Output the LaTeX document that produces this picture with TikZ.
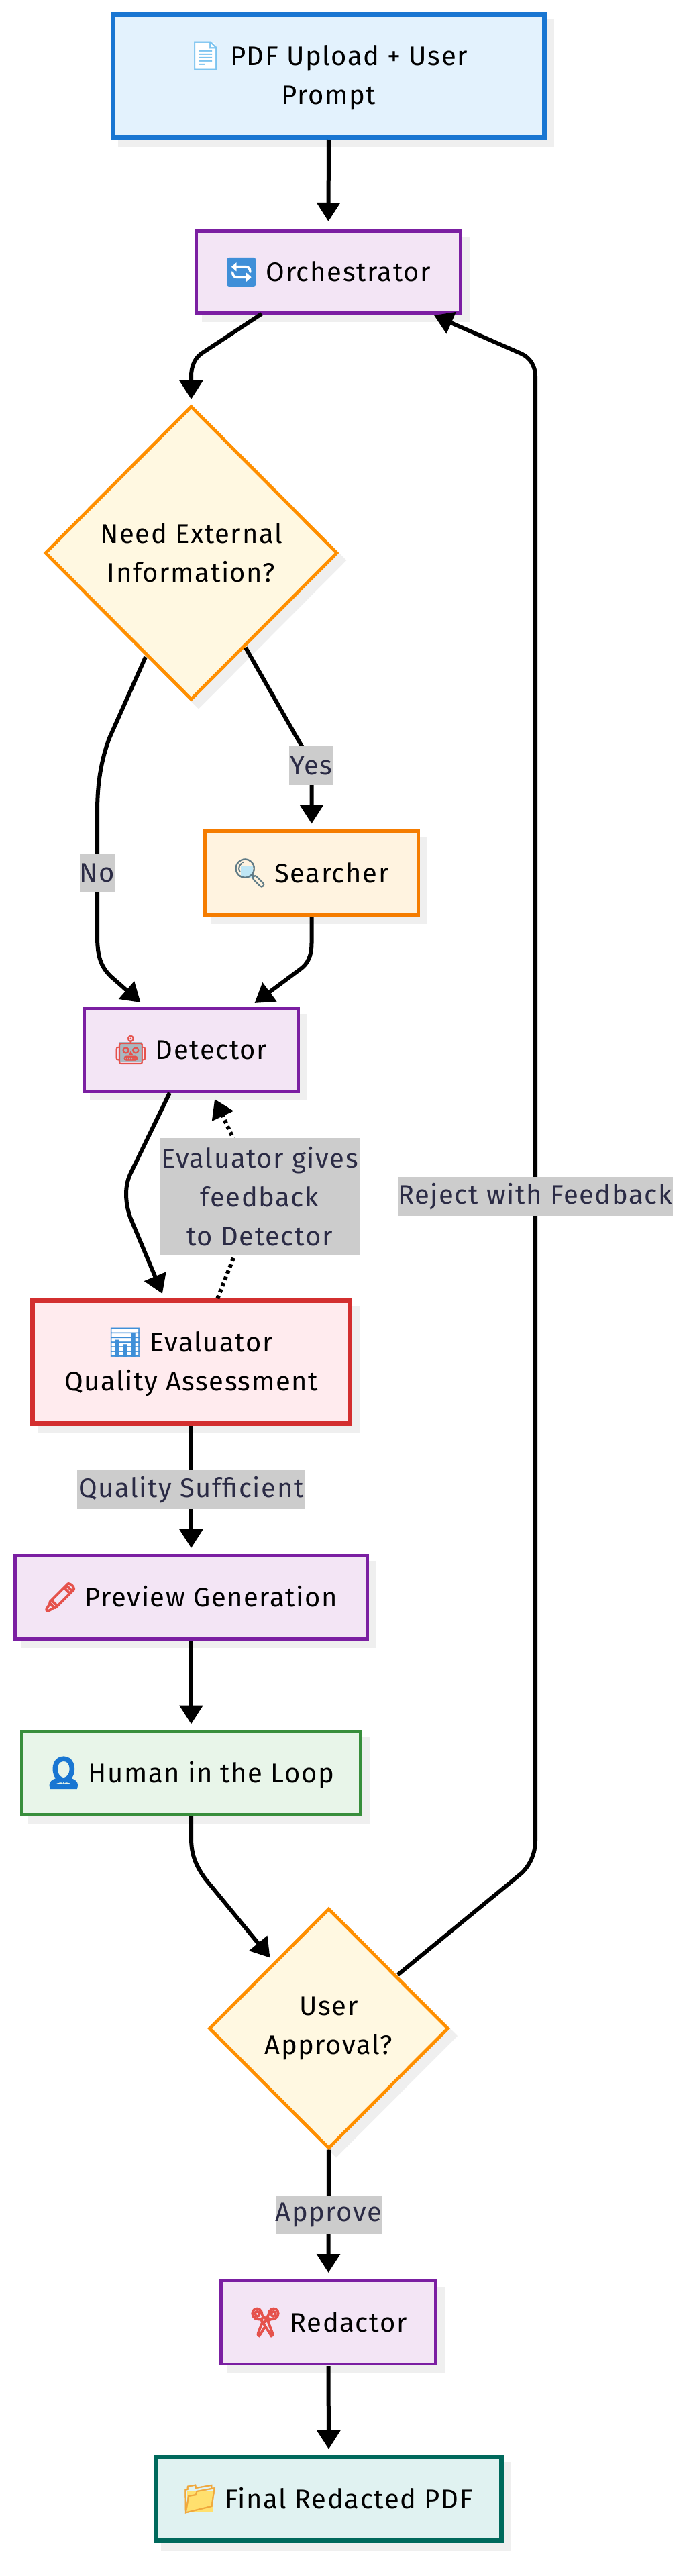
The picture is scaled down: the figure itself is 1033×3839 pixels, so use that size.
\documentclass[tikz,border=0pt]{standalone}
\usepackage{fontspec}
\setmainfont[LetterSpace=4]{Fira Sans}
\newfontfamily\emojifont[FakeBold=1.2]{Noto Emoji}
\newfontfamily\emojiheavy[FakeBold=5]{Noto Emoji}
\newfontfamily\emojisolid[FakeBold=14]{Noto Emoji}
\usetikzlibrary{arrows.meta,shapes.geometric}
\definecolor{shadowgray}{HTML}{EFEFEF}
\definecolor{labelgray}{HTML}{CCCCCC}
\definecolor{labeltext}{HTML}{2B2B45}
\definecolor{decisionline}{HTML}{FF8F00}
\definecolor{decisionfill}{HTML}{FFF8E1}
\definecolor{blueline}{HTML}{1976D2}
\definecolor{bluefill}{HTML}{E3F2FD}
\definecolor{purpleline}{HTML}{7B1FA2}
\definecolor{purplefill}{HTML}{F3E5F5}
\definecolor{orangeline}{HTML}{F57C00}
\definecolor{orangefill}{HTML}{FFF3E0}
\definecolor{redline}{HTML}{D32F2F}
\definecolor{redfill}{HTML}{FFEBEE}
\definecolor{greenline}{HTML}{388E3C}
\definecolor{greenfill}{HTML}{E8F5E9}
\definecolor{tealline}{HTML}{00695C}
\definecolor{tealfill}{HTML}{E0F2F1}
\definecolor{emopage}{HTML}{7CC4F0}
\definecolor{emoblue}{HTML}{3F8FD8}
\definecolor{emoperson}{HTML}{1976D2}
\definecolor{emogray}{HTML}{5F7A86}
\definecolor{emorobot}{HTML}{A9B8C0}
\definecolor{emored}{HTML}{E5524C}
\definecolor{emofold}{HTML}{F0A83C}
\definecolor{emofoldfill}{HTML}{FFE06E}
\definecolor{emoglass}{HTML}{BFE6F5}
% glyph centred in a fixed 46pt slot: colour, char
\newcommand{\emo}[2]{\makebox[46pt][c]{\emojifont\color{#1}\fontsize{42}{58}\selectfont #2}\hspace{14pt}}
\newcommand{\emoh}[2]{\makebox[46pt][c]{\emojiheavy\color{#1}\fontsize{42}{58}\selectfont #2}\hspace{14pt}}
\newcommand{\emos}[2]{\makebox[46pt][c]{\emojisolid\color{#1}\fontsize{42}{58}\selectfont #2}\hspace{14pt}}
% colour block under a glyph: colour, raise, width, height
\newcommand{\emobg}[4]{\makebox[0pt][l]{\makebox[46pt][c]{\raisebox{#2}{\color{#1}\rule{#3}{#4}}}}}
% patch under the lens of the glass
\newcommand{\emolens}[1]{\makebox[0pt][l]{\makebox[46pt][c]{\hspace{-9pt}\raisebox{7pt}{\color{#1}\rule{18pt}{18pt}}}}}
\tikzset{
  base/.style={font=\fontsize{40}{58}\selectfont, align=center, inner sep=0pt, outer sep=0pt, text=black},
  shadowed/.style={preaction={draw=shadowgray,fill=shadowgray,transform canvas={shift={(11pt,-11pt)}}}},
  boxnode/.style n args={2}{base, shadowed, rectangle, draw=#1, fill=#2},
  thinbox/.style={line width=4.9pt},
  thickbox/.style={line width=7.3pt},
  diamondnode/.style={base, shadowed, diamond, draw=decisionline, fill=decisionfill, line width=4.9pt},
  edge/.style={draw=black, line width=6pt, shorten <=2.5pt, -{Triangle[width=34pt,length=28pt]}},
  dottededge/.style={edge, dash pattern=on 5pt off 5pt},
  edgelabel/.style={font=\fontsize{40}{58}\selectfont, align=center, inner sep=0pt, outer sep=0pt, fill=labelgray, text=labeltext}
}
\begin{document}
\begin{tikzpicture}[x=1pt,y=-1pt]
\useasboundingbox (0,0) rectangle (1033,3839);
\fill[white] (0,0) rectangle (1033,3839);

\node[boxnode={blueline}{bluefill}, thickbox, minimum width=643pt, minimum height=183pt] (top) at (490,113)
 {\emobg{white}{-6pt}{30pt}{40pt}\emo{emopage}{📄}PDF Upload + User\\Prompt};
\node[boxnode={purpleline}{purplefill}, thinbox, minimum width=394pt, minimum height=122pt] (orch) at (489.5,405.5)
 {\emobg{white}{-7pt}{38pt}{38pt}\emo{emoblue}{🔄}Orchestrator};
\node[diamondnode, minimum width=434pt, minimum height=436pt] (need) at (285,824)
 {Need External\\Information?};
\node[boxnode={orangeline}{orangefill}, thinbox, minimum width=318pt, minimum height=125pt] (search) at (464.5,1301)
 {\emolens{emoglass}\emo{emogray}{🔍}Searcher};
\node[boxnode={purpleline}{purplefill}, thinbox, minimum width=319pt, minimum height=124pt] (det) at (285,1564.5)
 {\emobg{emorobot}{-4pt}{34pt}{30pt}\emo{emored}{🤖}Detector};
\node[boxnode={redline}{redfill}, thickbox, minimum width=473pt, minimum height=183pt] (eval) at (285,2030)
 {\emobg{white}{-6pt}{40pt}{40pt}\emo{emoblue}{📊}Evaluator\\Quality Assessment};
\node[boxnode={purpleline}{purplefill}, thinbox, minimum width=525pt, minimum height=124pt] (prev) at (285,2380.5)
 {\emoh{emored}{🖍}Preview Generation};
\node[boxnode={greenline}{greenfill}, thinbox, minimum width=505pt, minimum height=124pt] (human) at (285,2642.5)
 {\emos{emoperson}{👤}Human in the Loop};
\node[diamondnode, minimum width=355pt, minimum height=356pt] (appr) at (490,3023)
 {User\\Approval?};
\node[boxnode={purpleline}{purplefill}, thinbox, minimum width=320pt, minimum height=124pt] (red) at (489.5,3461)
 {\emoh{emored}{✂}Redactor};
\node[boxnode={tealline}{tealfill}, thickbox, minimum width=515pt, minimum height=125pt] (final) at (490,3724)
 {\emobg{emofoldfill}{-6pt}{38pt}{32pt}\emo{emofold}{📁}Final Redacted PDF};

% connectors
\draw[edge,shorten <=3.5pt] (top.south) -- ([yshift=14.5pt]orch.north);
\draw[edge] ([xshift=-97.5pt]orch.south) -- (303,525) .. controls (291,532) and (285,545) .. (285,561) -- ([yshift=11pt]need.north);
\draw[edge,shorten <=0pt] ([shift={(-68pt,-155pt)}]need.center) -- (163,1100) .. controls (150,1135) and (145,1170) .. (145,1210) -- (145,1395) .. controls (145,1425) and (150,1440) .. (165,1455) -- ([shift={(-75.5pt,8.5pt)}]det.north);
\draw[edge,shorten <=0pt] ([shift={(81pt,-141pt)}]need.center) -- (440,1095) .. controls (458,1125) and (464,1140) .. (464.5,1170) -- ([yshift=11pt]search.north);
\draw[edge] (search.south) -- (464.5,1406) .. controls (464.5,1425) and (458,1437) .. (448,1444) -- ([shift={(94.5pt,7.5pt)}]det.north);
\draw[edge] ([xshift=-31pt]det.south) -- (194,1750) .. controls (186,1768) and (186,1790) .. (194,1814) -- ([shift={(-43pt,10.5pt)}]eval.north);
\draw[dottededge,shorten <=3.5pt] ([xshift=38pt]eval.north) -- (349,1872) .. controls (360,1840) and (362,1730) .. (346,1693) -- ([shift={(35pt,-11.5pt)}]det.south);
\draw[edge,shorten <=3.5pt] (eval.south) -- ([yshift=11.5pt]prev.north);
\draw[edge] (prev.south) -- ([yshift=11pt]human.north);
\draw[edge] (human.south) -- (285,2740) .. controls (285,2765) and (293,2782) .. (306,2800) -- ([shift={(-87.5pt,105.5pt)}]appr.center);
\draw[edge,shorten <=0pt] ([shift={(103pt,80pt)}]appr.center) -- (777,2792) .. controls (790,2780) and (798,2762) .. (798,2743) -- (798,561) .. controls (798,545) and (790,533) .. (777,527) -- ([shift={(157.5pt,-3.5pt)}]orch.south);
\draw[edge] (appr.south) -- ([yshift=12pt]red.north);
\draw[edge,shorten <=3pt] (red.south) -- ([yshift=11.5pt]final.north);

% edge labels
\node[edgelabel, minimum width=50pt, minimum height=58pt] (lno) at (145,1301) {No};
\node[edgelabel, minimum width=66pt, minimum height=58pt] (lyes) at (464,1141) {Yes};
\node[edgelabel, minimum width=299pt, minimum height=174pt] (lfeed) at (387,1783) {Evaluator gives\\feedback\\to Detector};
\node[edgelabel, minimum width=410pt, minimum height=58pt] (lrej) at (797.5,1783) {Reject with Feedback};
\node[edgelabel, minimum width=340pt, minimum height=58pt] (lqual) at (285,2220) {Quality Sufficient};
\node[edgelabel, minimum width=158pt, minimum height=58pt] (lappr) at (490,3301) {Approve};
\end{tikzpicture}
\end{document}
